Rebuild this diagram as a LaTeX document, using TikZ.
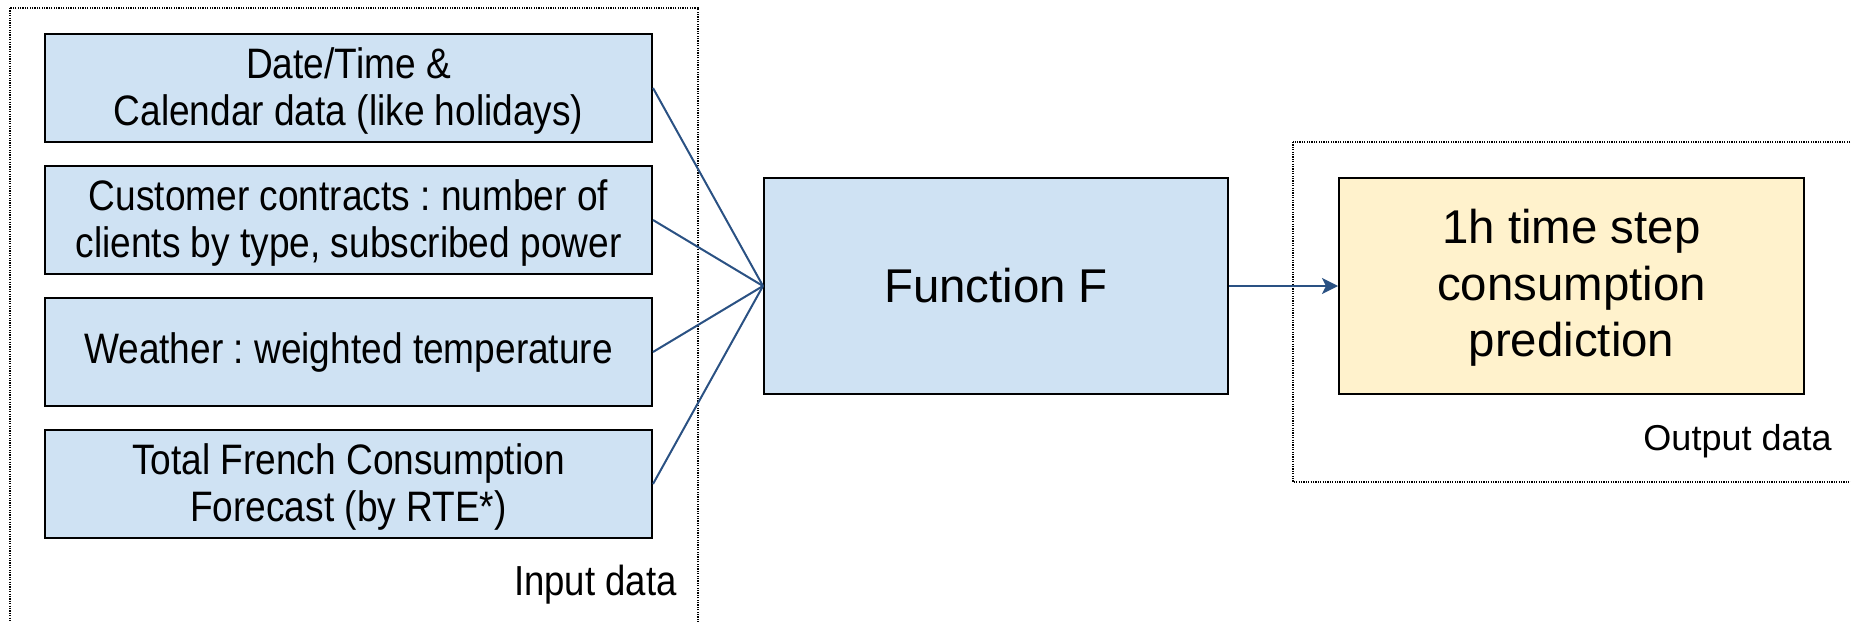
\documentclass[tikz,border=0pt]{standalone}
\usepackage{fontspec}
\setmainfont{Liberation Sans}
\newfontfamily\narrowsans[FakeStretch=0.87]{Liberation Sans}
\usetikzlibrary{arrows.meta}
\definecolor{inblue}{HTML}{CFE2F3}
\definecolor{outyellow}{HTML}{FFF2CC}
\definecolor{linkblue}{HTML}{2A5183}
% centred lines, lowered by #1 without changing the reported size
\newcommand\droplines[2]{\raisebox{-#1}[\height][\depth]{\begin{tabular}{@{}c@{}}#2\end{tabular}}}
\tikzset{
  inbox/.style={draw=black, line width=1pt, fill=inblue, align=center,
    minimum width=303.5pt, minimum height=54pt, inner sep=0pt,
    font=\narrowsans\fontsize{21.3}{23.5}\selectfont},
  bigbox/.style={draw=black, line width=1pt, align=center,
    minimum height=108pt, inner sep=0pt,
    font=\fontsize{23.7}{28.3}\selectfont},
  group/.style={draw=black, line width=0.7pt, dash pattern=on 0.6pt off 0.6pt},
  link/.style={draw=linkblue, line width=1pt},
  grouplabel/.style={font=\fontsize{18}{22}\selectfont, inner sep=0pt},
  narrowlabel/.style={font=\narrowsans\fontsize{21}{22}\selectfont, inner sep=0pt}
}
\begin{document}
\frenchspacing
\begin{tikzpicture}[x=0.5pt,y=-0.5pt]
  \useasboundingbox (0,0) rectangle (1851,621);
  \clip (0,0) rectangle (1851,621);
  \fill[white] (0,0) rectangle (1851,621);

  % dotted group frames
  \draw[group] (10,8) rectangle (698,660);
  \draw[group] (1293,142) rectangle (1900,482);

  % input boxes
  \node[inbox] (b1) at (348.5,88)  {\droplines{2.5pt}{Date/Time \&\\Calendar data (like holidays)}};
  \node[inbox] (b2) at (348.5,220) {\droplines{2.5pt}{Customer contracts : number of\\clients by type, subscribed power}};
  \node[inbox] (b3) at (348.5,352) {\droplines{1pt}{Weather : weighted temperature}};
  \node[inbox] (b4) at (348.5,484) {\droplines{2.5pt}{Total French Consumption\\Forecast (by RTE*)}};

  % model and output
  \node[bigbox, fill=inblue, minimum width=232pt] (f) at (996,286) {Function F};
  \node[bigbox, fill=outyellow, minimum width=232.5pt] (out) at (1571.5,286)
    {\droplines{1.5pt}{1h time step\\consumption\\prediction}};

  % group labels
  \node[narrowlabel, anchor=east] (inlab) at (677,585) {Input data};
  \node[grouplabel, anchor=east] (outlab) at (1832,441) {Output data};

  % connectors
  \foreach \b in {b1,b2,b3,b4}
    \draw[link] (\b.east) -- (f.west);
  \draw[link, -{Stealth[length=8pt,width=8pt,inset=2pt]}] (f.east) -- (out.west);
\end{tikzpicture}
\end{document}
